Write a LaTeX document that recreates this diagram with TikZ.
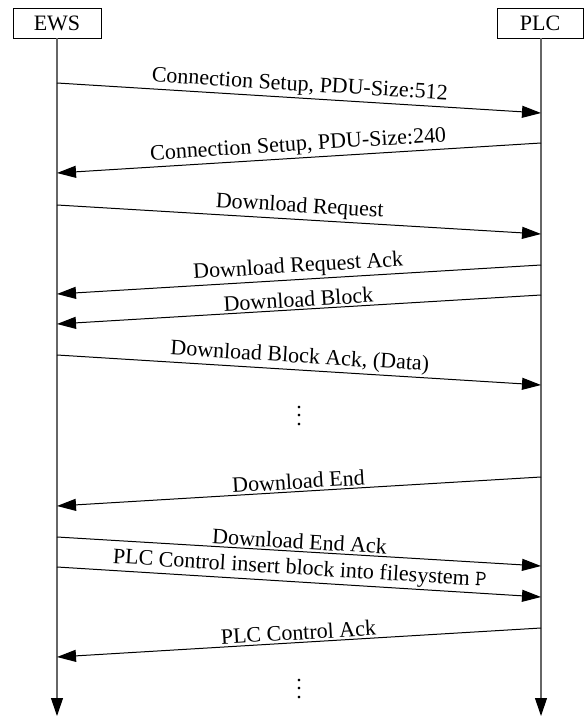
\documentclass[tikz,border=0pt]{standalone}
\usepackage{fontspec}
\setmainfont{Liberation Serif}
\usetikzlibrary{arrows.meta}
\begin{document}
\begin{tikzpicture}[x=1pt,y=-1pt,
  font=\fontsize{22}{26}\selectfont,
  box/.style={draw, line width=0.8pt, minimum width=88pt, minimum height=30pt, inner sep=0pt},
  life/.style={draw=black!60, line width=1.1pt, -{Triangle[length=18pt,width=12pt,color=black]}},
  msg/.style={draw=black, line width=1pt, -{Triangle[length=19pt,width=12pt]}},
  lab/.style={midway, sloped, above, inner sep=2pt},
  dotsn/.style={align=center, inner sep=0pt, font=\fontsize{22}{8.3}\selectfont}]
\useasboundingbox (0,0) rectangle (584,718);
\node[box] (ews) at (57,23) {EWS};
\node[box, minimum width=86pt] (plc) at (540,23) {PLC};
\coordinate (ewsend) at (57,716);
\coordinate (plcend) at (541,716);
\draw[life] (ews.south) -- (ewsend);
\draw[life] (plc.south -| plcend) -- (plcend);
% message endpoints
\coordinate (e1) at (57,83);   \coordinate (p1) at (541,113);
\coordinate (p2) at (541,143); \coordinate (e2) at (57,173);
\coordinate (e3) at (57,205);  \coordinate (p3) at (541,234);
\coordinate (p4) at (541,265); \coordinate (e4) at (57,294);
\coordinate (p5) at (541,295); \coordinate (e5) at (57,324);
\coordinate (e6) at (57,355);  \coordinate (p6) at (541,385);
\coordinate (p7) at (541,477); \coordinate (e7) at (57,506);
\coordinate (e8) at (57,537);  \coordinate (p8) at (541,566);
\coordinate (e9) at (57,567);  \coordinate (p9) at (541,597);
\coordinate (p10) at (541,628); \coordinate (e10) at (57,657);
\draw[msg] (e1) -- node[lab] {Connection Setup, PDU-Size:512} (p1);
\draw[msg] (p2) -- node[lab] {Connection Setup, PDU-Size:240} (e2);
\draw[msg] (e3) -- node[lab] {Download Request} (p3);
\draw[msg] (p4) -- node[lab] {Download Request Ack} (e4);
\draw[msg] (p5) -- node[lab] {Download Block} (e5);
\draw[msg] (e6) -- node[lab] {Download Block Ack, (Data)} (p6);
\node[dotsn] (dots1) at (299,416) {.\\.\\.};
\draw[msg] (p7) -- node[lab] {Download End} (e7);
\draw[msg] (e8) -- node[lab] {Download End Ack} (p8);
\draw[msg] (e9) -- node[lab] {PLC Control insert block into filesystem {\ttfamily P}} (p9);
\draw[msg] (p10) -- node[lab] {PLC Control Ack} (e10);
\node[dotsn] (dots2) at (299,689) {.\\.\\.};
\end{tikzpicture}
\end{document}
